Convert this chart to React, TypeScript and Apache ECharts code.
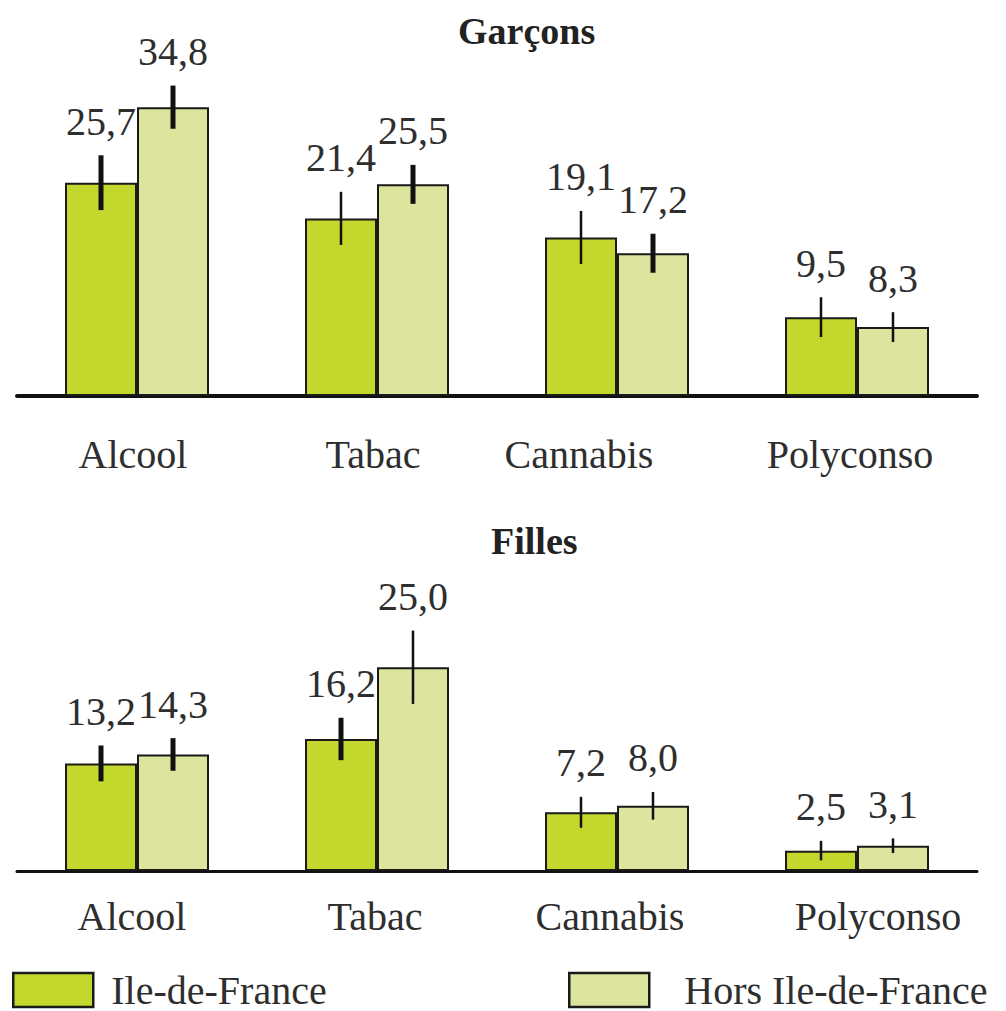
import React, { useEffect, useRef } from "react";
import * as echarts from "echarts";

const categories = ["Alcool", "Tabac", "Cannabis", "Polyconso"];
const seriesNames = ["Ile-de-France", "Hors Ile-de-France"];

const garconsIDF = [25.7, 21.4, 19.1, 9.5];
const garconsHors = [34.8, 25.5, 17.2, 8.3];
const fillesIDF = [13.2, 16.2, 7.2, 2.5];
const fillesHors = [14.3, 25.0, 8.0, 3.1];

// half-width of the confidence intervals (error bars)
const garconsIDFErr = [3.3, 3.2, 3.2, 2.4];
const garconsHorsErr = [2.6, 2.35, 2.35, 1.8];
const fillesIDFErr = [2.2, 2.6, 1.9, 1.2];
const fillesHorsErr = [2.0, 4.5, 1.7, 0.9];

const titles = ["Garçons", "Filles"];

// style: thick (true) or thin error bars
const garconsIDFThick = [true, false, false, false];
const garconsHorsThick = [true, true, true, false];
const fillesIDFThick = [true, true, false, false];
const fillesHorsThick = [true, false, false, false];

// layout: horizontal nudges of category labels
const topLabelShift = [-4, -4, -38, -7];
const botLabelShift = [-5, -2, -7, 21];

const FONT = "Liberation Serif";
const TEXT = "#2e2e2e";
const C_IDF = "#c3d72c";
const C_HORS = "#dce49d";
const BORDER = "#1a1a1a";

const fmt = (v: number) => v.toFixed(1).replace(".", ",");

function makeRich(shift: number[]) {
  const rich: any = {};
  shift.forEach((s, i) => {
    rich["o" + i] = {
      fontSize: 40,
      fontFamily: FONT,
      color: TEXT,
      padding: s < 0 ? [0, -2 * s, 0, 0] : [0, 0, 0, 2 * s],
    };
  });
  return rich;
}

function errSeries(
  name: string,
  grid: number,
  values: number[],
  errs: number[],
  thick: boolean[],
  side: number
) {
  return {
    type: "custom",
    name: name + " IC",
    xAxisIndex: grid,
    yAxisIndex: grid,
    clip: false,
    silent: true,
    z: 5,
    encode: { x: 0, y: [1, 2] },
    data: values.map((v, i) => [i, v - errs[i], v + errs[i], v]),
    renderItem: (params: any, api: any) => {
      const i = api.value(0);
      const lo = api.coord([i, api.value(1)]);
      const hi = api.coord([i, api.value(2)]);
      const band = api.size([1, 0])[0];
      const x = lo[0] + side * band * 0.15;
      const w = thick[params.dataIndex] ? 5 : 2.5;
      return {
        type: "group",
        children: [
          {
            type: "line",
            shape: { x1: x, y1: lo[1], x2: x, y2: hi[1] },
            style: { stroke: "#111", lineWidth: w },
          },
          {
            type: "text",
            x: x,
            y: hi[1] - 14,
            style: {
              text: fmt(api.value(3)),
              fontSize: 40,
              fontFamily: FONT,
              fill: TEXT,
              align: "center",
              verticalAlign: "bottom",
            },
          },
        ],
      };
    },
  };
}

function barSeries(name: string, grid: number, values: number[], color: string) {
  return {
    type: "bar",
    name,
    xAxisIndex: grid,
    yAxisIndex: grid,
    data: values,
    barGap: "0%",
    barCategoryGap: "40%",
    itemStyle: { color, borderColor: BORDER, borderWidth: 2 },
  };
}

export default function App() {
  const ref = useRef<HTMLDivElement>(null);
  useEffect(() => {
    document.body.style.margin = "0";
    const chart = echarts.init(ref.current!, null, { renderer: "svg" });
    const xAxisBase = (grid: number, margin: number, shift: number[]) => ({
      type: "category",
      gridIndex: grid,
      data: categories,
      axisLine: { show: true, lineStyle: { color: "#111", width: grid === 0 ? 4 : 3 } },
      axisTick: { show: false },
      axisLabel: {
        margin,
        interval: 0,
        fontSize: 40,
        fontFamily: FONT,
        color: TEXT,
        formatter: (v: string, idx: number) => `{o${idx}|${v}}`,
        rich: makeRich(shift),
      },
    });
    const yAxisBase = (grid: number, max: number) => ({
      type: "value",
      gridIndex: grid,
      min: 0,
      max,
      show: false,
      splitLine: { show: false },
    });
    chart.setOption({
      animation: false,
      backgroundColor: "#ffffff",
      title: [
        {
          text: titles[0],
          left: 458,
          top: 12,
          padding: 0,
          textStyle: { fontFamily: FONT, fontWeight: "bold", fontSize: 38, color: "#222" },
        },
        {
          text: titles[1],
          left: 491,
          top: 522,
          padding: 0,
          textStyle: { fontFamily: FONT, fontWeight: "bold", fontSize: 38, color: "#222" },
        },
      ],
      legend: [
        {
          data: [seriesNames[0]],
          left: 12,
          top: 970,
          padding: 0,
          icon: "rect",
          itemWidth: 80,
          itemHeight: 34,
          itemStyle: { color: C_IDF, borderColor: BORDER, borderWidth: 2.5 },
          textStyle: { fontFamily: FONT, fontSize: 40, color: TEXT, padding: [14, 0, 0, 13] },
        },
        {
          data: [seriesNames[1]],
          left: 568,
          top: 970,
          padding: 0,
          icon: "rect",
          itemWidth: 80,
          itemHeight: 34,
          itemStyle: { color: C_HORS, borderColor: BORDER, borderWidth: 2.5 },
          textStyle: { fontFamily: FONT, fontSize: 40, color: TEXT, padding: [14, 0, 0, 30] },
        },
      ],
      grid: [
        { left: 17, right: 29, top: 64, height: 332 },
        { left: 17, right: 29, top: 626.5, height: 244.5 },
      ],
      xAxis: [xAxisBase(0, 38, topLabelShift), xAxisBase(1, 25, botLabelShift)],
      yAxis: [yAxisBase(0, 40), yAxisBase(1, 30)],
      series: [
        barSeries(seriesNames[0], 0, garconsIDF, C_IDF),
        barSeries(seriesNames[1], 0, garconsHors, C_HORS),
        barSeries(seriesNames[0], 1, fillesIDF, C_IDF),
        barSeries(seriesNames[1], 1, fillesHors, C_HORS),
        errSeries(seriesNames[0], 0, garconsIDF, garconsIDFErr, garconsIDFThick, -1),
        errSeries(seriesNames[1], 0, garconsHors, garconsHorsErr, garconsHorsThick, 1),
        errSeries(seriesNames[0], 1, fillesIDF, fillesIDFErr, fillesIDFThick, -1),
        errSeries(seriesNames[1], 1, fillesHors, fillesHorsErr, fillesHorsThick, 1),
      ],
    });
    return () => chart.dispose();
  }, []);
  return <div ref={ref} style={{ width: 1006, height: 1011 }} />;
}
